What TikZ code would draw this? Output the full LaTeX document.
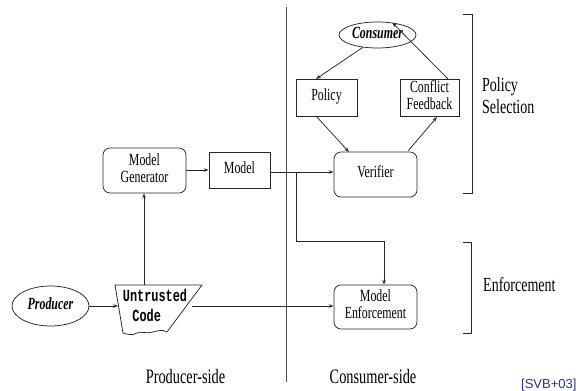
\documentclass[tikz,border=0pt]{standalone}
\usepackage{fontspec}
\usepackage{graphicx}
\setmainfont{Liberation Serif}
\setmonofont{Liberation Mono}
\setsansfont{Liberation Sans}
\usetikzlibrary{arrows.meta,shapes.geometric}
\definecolor{refblue}{RGB}{40,50,150}
\newcommand{\sqz}[1]{\scalebox{0.7}[1]{\begin{tabular}{@{}c@{}}#1\end{tabular}}}
\newcommand{\sqzl}[1]{\scalebox{0.7}[1]{\begin{tabular}{@{}l@{}}#1\end{tabular}}}
\begin{document}
\begin{tikzpicture}[x=1pt,y=-1pt,
  line/.style={draw=black!85,line width=0.75pt},
  arr/.style={line,-{Stealth[length=5pt,width=3.5pt]}},
  rbox/.style={line,rounded corners=7pt,inner sep=0pt,font=\fontsize{17}{17}\selectfont},
  sbox/.style={line,inner sep=0pt,font=\fontsize{17}{17}\selectfont},
  oval/.style={line,ellipse,inner sep=0pt,font=\fontsize{17}{17}\selectfont\bfseries\itshape},
  side/.style={inner sep=0pt,font=\fontsize{20.5}{20}\selectfont},
  brlabel/.style={font=\fontsize{20}{22}\selectfont,anchor=west,inner sep=0pt}
]
\useasboundingbox (0,0) rectangle (584,391);

% divider
\draw[draw=black!70,line width=0.8pt] (286,7) -- (286,382);

% nodes
\node[rbox,minimum width=83pt,minimum height=45pt] (gen) at (144.5,170.5) {\sqz{Model\\Generator}};
\node[sbox,minimum width=61pt,minimum height=36pt] (model) at (239.5,170) {\sqz{Model}};
\node[rbox,minimum width=83pt,minimum height=45pt] (ver) at (375.5,174.5) {\sqz{Verifier}};
\node[rbox,minimum width=83pt,minimum height=44pt] (enf) at (375.5,307) {\sqz{Model\\Enforcement}};
\node[oval,minimum width=77pt,minimum height=26pt] (cons) at (377.5,35) {\sqz{Consumer}};
\node[sbox,minimum width=61pt,minimum height=37pt] (pol) at (326.5,97.5) {\sqz{Policy}};
\node[sbox,minimum width=59pt,minimum height=37pt] (cf) at (429.5,98) {\sqz{Conflict\\Feedback}};
\node[oval,minimum width=77pt,minimum height=40pt] (prod) at (50.5,306) {\sqz{Producer}};

% untrusted code shape
\coordinate (ctl) at (115,285);
\coordinate (ctr) at (202,285);
\coordinate (cbr) at (167,332);
\coordinate (cbl) at (123,333);
\draw[line,line join=round] (cbl) -- (ctl) -- (ctr) -- (cbr)
  .. controls (162,329) and (158,331) .. (153,332)
  .. controls (146,334) and (142,331) .. (137,333)
  .. controls (132,336) and (127,334) .. (cbl);
\node[inner sep=0pt,font=\fontsize{17}{20}\selectfont\ttfamily\bfseries] (code) at (155,307) {\sqzl{Untrusted\\\hspace*{0.8em}Code}};

% connectors
\coordinate (codetop) at (144,285);
\coordinate (coderight) at (192,306);
\coordinate (codeleft) at (118,306);
\coordinate (br1) at (296,172);
\coordinate (br2) at (296,241);
\coordinate (br3) at (384,241);
\draw[arr] (prod.east) -- (codeleft);
\draw[arr] (codetop) -- (codetop |- gen.south);
\draw[arr] (gen.east |- model.west) -- (model.west);
\draw[arr] (model.east |- br1) -- (ver.west |- br1);
\draw[arr] (br1) -- (br2) -- (br3) -- (br3 |- enf.north);
\draw[arr] (coderight) -- (enf.west |- coderight);
\draw[arr] (cons.220) -- (316,79);
\draw[arr] (448,79) -- (cons.40);
\draw[arr] (316,116) -- (349,152);
\draw[arr] (408,151) -- (437,117);

% brackets
\draw[line] (463,14) -- (472,14) -- (472,193) -- (463,193);
\draw[line] (463,242) -- (471,242) -- (471,333) -- (463,333);
\node[brlabel] (ps) at (482,98) {\sqzl{Policy\\Selection}};
\node[brlabel] (en) at (483,287) {\sqzl{Enforcement}};

% side labels
\node[side] (pside) at (185.5,379) {\sqz{Producer-side}};
\node[side] (cside) at (373,379) {\sqz{Consumer-side}};
\node[anchor=base west,inner sep=0pt,text=refblue,font=\sffamily\fontsize{13}{15}\selectfont] (ref) at (521,388) {[SVB+03]};
\end{tikzpicture}
\end{document}
